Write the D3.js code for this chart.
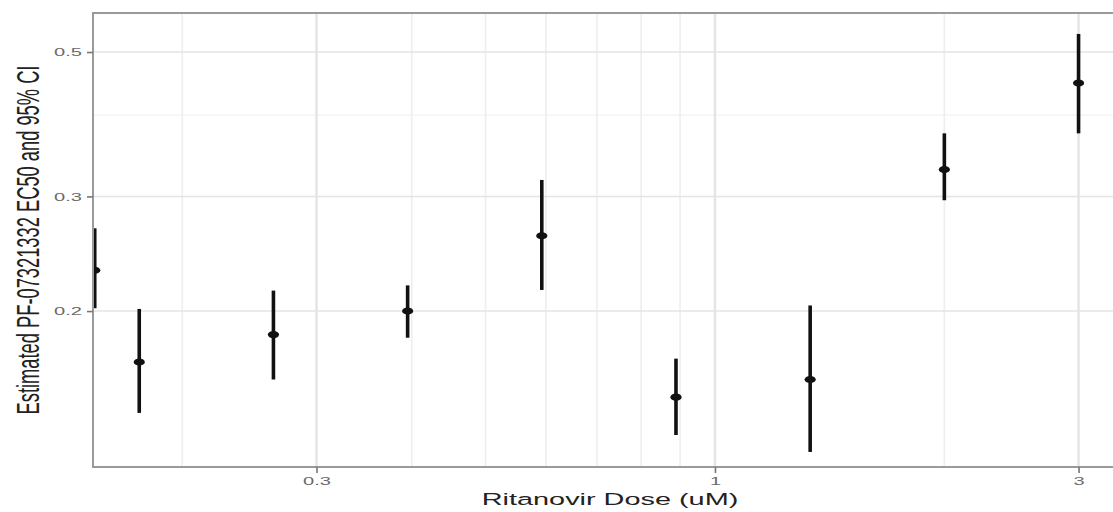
<!DOCTYPE html>
<html>
<head>
<meta charset="utf-8">
<script src="https://cdn.jsdelivr.net/npm/d3@7"></script>
<style>
  body { margin: 0; background: #fff; }
  svg { display: block; }
</style>
</head>
<body>
<div id="chart"></div>
<script>
// values
const doses  = [0.1535, 0.1756, 0.2634, 0.3951, 0.5926, 0.8889, 1.3333, 2, 3];
const ec50   = [0.231, 0.167, 0.184, 0.200, 0.261, 0.1475, 0.157, 0.330, 0.448];
const ciLow  = [0.202, 0.1395, 0.157, 0.182, 0.2155, 0.129, 0.1215, 0.296, 0.375];
const ciHigh = [0.268, 0.2015, 0.215, 0.219, 0.318, 0.169, 0.204, 0.375, 0.533];

const xMajorTicks = [0.3, 1, 3];
const xMinorTicks = [0.2, 0.4, 0.5, 0.6, 0.7, 0.8, 0.9, 2];
const yMajorTicks = [0.2, 0.3, 0.5];
const yMinorTicks = [0.4];

const xDomain = [0.1527, 3.39];
const yDomain = [0.1152, 0.574];

const xTitle = "Ritanovir Dose (uM)";
const yTitle = "Estimated PF-07321332 EC50 and 95% CI";

const config = {
  width: 1113,
  height: 512,
  margin: { top: 13, bottom: 45, right: -6, left: 93 }
};
// the original image is stretched sideways, text follows that
const stretch = 1.75;

const width = config.width - config.margin.left - config.margin.right;
const height = config.height - config.margin.top - config.margin.bottom;

const svg = d3.select('#chart').append('svg')
  .attr('width', config.width)
  .attr('height', config.height);

const chart = svg.append('g')
  .attr('transform', `translate(${config.margin.left}, ${config.margin.top})`);

const xScale = d3.scaleLog().domain(xDomain).range([0, width]);
const yScale = d3.scaleLog().domain(yDomain).range([height, 0]);

svg.append('defs').append('clipPath')
  .attr('id', 'panel-clip')
  .append('rect')
  .attr('width', width)
  .attr('height', height);

// grid
const grid = chart.append('g');
grid.selectAll('.x-minor').data(xMinorTicks).enter().append('line')
  .attr('x1', d => xScale(d)).attr('x2', d => xScale(d))
  .attr('y1', 0).attr('y2', height)
  .attr('stroke', '#eeeeee').attr('stroke-width', 1.6);
grid.selectAll('.y-minor').data(yMinorTicks).enter().append('line')
  .attr('x1', 0).attr('x2', width)
  .attr('y1', d => yScale(d)).attr('y2', d => yScale(d))
  .attr('stroke', '#eeeeee').attr('stroke-width', 1);
grid.selectAll('.x-major').data(xMajorTicks).enter().append('line')
  .attr('x1', d => xScale(d)).attr('x2', d => xScale(d))
  .attr('y1', 0).attr('y2', height)
  .attr('stroke', '#e4e4e4').attr('stroke-width', 2.4);
grid.selectAll('.y-major').data(yMajorTicks).enter().append('line')
  .attr('x1', 0).attr('x2', width)
  .attr('y1', d => yScale(d)).attr('y2', d => yScale(d))
  .attr('stroke', '#e4e4e4').attr('stroke-width', 1.6);

// error bars + points
const marks = chart.append('g').attr('clip-path', 'url(#panel-clip)');
const rows = doses.map((d, i) => ({ dose: d, est: ec50[i], lo: ciLow[i], hi: ciHigh[i] }));

marks.selectAll('.bar').data(rows).enter().append('line')
  .attr('x1', d => xScale(d.dose)).attr('x2', d => xScale(d.dose))
  .attr('y1', d => yScale(d.lo)).attr('y2', d => yScale(d.hi))
  .attr('stroke', '#111').attr('stroke-width', 3.6);

marks.selectAll('.pt').data(rows).enter().append('ellipse')
  .attr('cx', d => xScale(d.dose))
  .attr('cy', d => yScale(d.est))
  .attr('rx', 5.6).attr('ry', 3.6)
  .attr('fill', '#111');

// panel border
chart.append('rect')
  .attr('width', width).attr('height', height)
  .attr('fill', 'none')
  .attr('stroke', '#9a9a9a').attr('stroke-width', 2);

// axes
const xAxis = d3.axisBottom(xScale).tickValues(xMajorTicks).tickFormat(d3.format('')).tickSize(6).tickSizeOuter(0);
const yAxis = d3.axisLeft(yScale).tickValues(yMajorTicks).tickFormat(d3.format('')).tickSize(6).tickSizeOuter(0);

const xAxisGroup = chart.append('g')
  .attr('class', 'axis x-axis')
  .attr('transform', `translate(0, ${height})`)
  .call(xAxis);
const yAxisGroup = chart.append('g')
  .attr('class', 'axis y-axis')
  .call(yAxis);

[xAxisGroup, yAxisGroup].forEach(g => {
  g.select('.domain').remove();
  g.selectAll('.tick line').attr('stroke', '#777').attr('stroke-width', 1.6);
  g.selectAll('.tick text')
    .attr('fill', '#6a6a6a')
    .style('font-family', '"Liberation Sans", Arial, sans-serif')
    .style('font-size', '11.5px');
});

xAxisGroup.selectAll('.tick text')
  .attr('y', 10)
  .attr('transform', `scale(${stretch},1)`);
yAxisGroup.selectAll('.tick text')
  .attr('x', -11 / stretch)
  .attr('transform', `scale(${stretch},1)`);

// X axis label
svg.append('text')
  .attr('text-anchor', 'middle')
  .attr('transform', `translate(610, 505) scale(${stretch},1)`)
  .style('font-family', '"Liberation Sans", Arial, sans-serif')
  .style('font-size', '16.5px')
  .attr('fill', '#222')
  .text(xTitle);

// Y axis label
svg.append('text')
  .attr('text-anchor', 'middle')
  .attr('transform', `translate(39, ${config.margin.top + height / 2}) scale(${stretch},1) rotate(-90)`)
  .style('font-family', '"Liberation Sans", Arial, sans-serif')
  .style('font-size', '18.3px')
  .attr('fill', '#222')
  .text(yTitle);
</script>
</body>
</html>
